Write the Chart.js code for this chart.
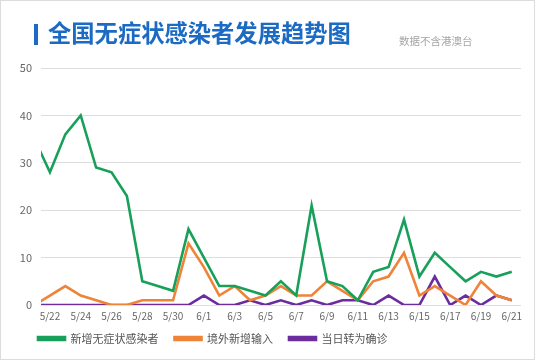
<!DOCTYPE html>
<html>
<head>
<meta charset="utf-8">
<style>
    html, body { margin: 0; padding: 0; background: #fff; }
    #card {
        position: relative; width: 533px; height: 358px;
        border: 1px solid #dcdcdc; overflow: hidden;
        font-family: "Noto Sans CJK SC", "Noto Sans", sans-serif;
    }
    #bar { position: absolute; left: 33px; top: 23px; width: 4px; height: 21px; background: #1b6ac3; }
    #title {
        position: absolute; left: 47px; top: 14px; font-size: 23.3px; font-weight: bold;
        color: #1b6ac3; white-space: nowrap;
    }
    #sub { position: absolute; left: 398px; top: 32px; font-size: 10.5px; color: #a5a5a5; }
    #chartBox { position: absolute; left: 0; top: 0; width: 533px; height: 358px; }
</style>
</head>
<body>
<div id="card">
    <div id="chartBox"><canvas id="myChart"></canvas></div>
    <div id="bar"></div>
    <div id="title">全国无症状感染者发展趋势图</div>
    <div id="sub">数据不含港澳台</div>
</div>
<script src="https://cdn.jsdelivr.net/npm/chart.js@4.4.1/dist/chart.umd.min.js"></script>
<script>
    // 5/21 .. 6/21, one entry a day
    const dates = ["5/21", "5/22", "5/23", "5/24", "5/25", "5/26", "5/27", "5/28", "5/29", "5/30", "5/31",
        "6/1", "6/2", "6/3", "6/4", "6/5", "6/6", "6/7", "6/8", "6/9", "6/10",
        "6/11", "6/12", "6/13", "6/14", "6/15", "6/16", "6/17", "6/18", "6/19", "6/20", "6/21"];
    const newAsym = [35, 28, 36, 40, 29, 28, 23, 5, 4, 3, 16, 10, 4, 4, 3, 2, 5, 2, 21, 5, 4,
        1, 7, 8, 18, 6, 11, 8, 5, 7, 6, 7];
    const imported = [0, 2, 4, 2, 1, 0, 0, 1, 1, 1, 13, 8, 2, 4, 1, 2, 4, 2, 2, 5, 3,
        1, 5, 6, 11, 2, 4, 2, 0, 5, 2, 1];
    const toConfirmed = [0, 0, 0, 0, 0, 0, 0, 0, 0, 0, 0, 2, 0, 0, 1, 0, 1, 0, 1, 0, 1,
        1, 0, 2, 0, 0, 6, 0, 2, 0, 2, 1];
    const tickIdx = [1, 3, 5, 7, 9, 11, 13, 15, 17, 19, 21, 23, 25, 27, 29, 31];
    const yTicks = [0, 10, 20, 30, 40, 50];

    const names = ["新增无症状感染者", "境外新增输入", "当日转为确诊"];
    const colors = ["#18a05a", "#ef8338", "#6b2d9e"];
    const series = [newAsym, imported, toConfirmed];

    Chart.defaults.font.family = '"Noto Sans CJK SC", "Noto Sans", sans-serif';

    // axis boxes are kept tight, so let their labels draw outside them
    const noLabelClip = (scale) => { scale._computeLabelArea = () => undefined; };

    new Chart("myChart", {
        type: "line",
        data: {
            datasets: series.map((s, k) => ({
                label: names[k],
                data: s.map((v, i) => ({x: i, y: v})),
                borderColor: colors[k],
                backgroundColor: colors[k],
                borderWidth: 2.6,
                pointRadius: 0,
                tension: 0
            }))
        },
        options: {
            responsive: true,
            maintainAspectRatio: false,
            animation: false,
            layout: {padding: {top: 67, left: 21, right: 13, bottom: 5}},
            plugins: {
                legend: {
                    position: "bottom",
                    align: "start",
                    labels: {
                        boxWidth: 27, boxHeight: 3, padding: 16,
                        color: "#555", font: {size: 11}
                    }
                },
                tooltip: {enabled: false}
            },
            scales: {
                x: {
                    type: "linear",
                    min: 0.42, max: 31.6,
                    grid: {display: false, drawTicks: false},
                    border: {display: false},
                    afterBuildTicks: (scale) => { scale.ticks = tickIdx.map(v => ({value: v})); },
                    afterFit: (scale) => { scale.height = 12; noLabelClip(scale); },
                    ticks: {
                        autoSkip: false, maxRotation: 0, padding: 5,
                        color: "#666", font: {size: 10},
                        callback: (v) => dates[v]
                    }
                },
                y: {
                    min: 0, max: 50,
                    afterBuildTicks: (scale) => { scale.ticks = yTicks.map(v => ({value: v})); },
                    afterFit: (scale) => { scale.width = 19; noLabelClip(scale); },
                    grid: {color: "#dedede", drawTicks: false},
                    border: {display: false},
                    ticks: {color: "#666", font: {size: 11}, padding: 9}
                }
            }
        }
    });
</script>
</body>
</html>
